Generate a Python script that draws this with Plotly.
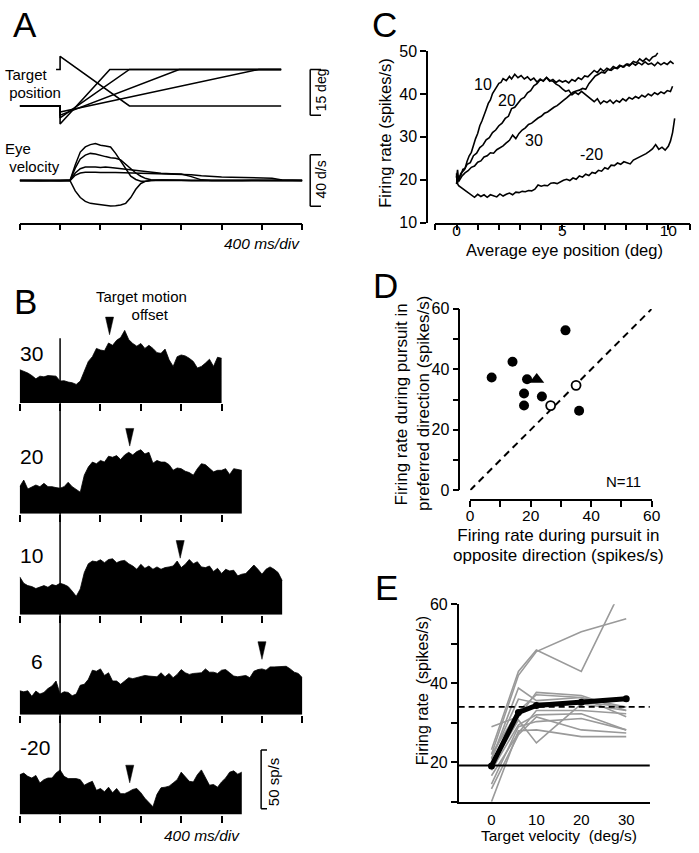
import plotly.graph_objects as go

W, H = 699, 853
def px(x):
    return x / W
def py(y):
    return 1 - y / H

FONT = "Liberation Sans, Arial, Helvetica, sans-serif"

# ---------------- Panel A : target position (deg) ----------------
pos_t_30 = [-400, 0, 0, 493, 2190]
pos_deg_30 = [0, 0, -5.9, 12, 12]
pos_t_20 = [-400, 0, 0, 687, 2190]
pos_deg_20 = [0, 0, -3.9, 12, 12]
pos_t_10 = [-400, 0, 0, 1180, 2190]
pos_deg_10 = [0, 0, -3.0, 12, 12]
pos_t_6 = [-400, 0, 0, 1968, 2190]
pos_deg_6 = [0, 0, -2.0, 12, 12]
pos_t_m20 = [-40, 0, 0, 687, 2190]
pos_deg_m20 = [12, 12, 16.3, 0, 0]

# ---------------- Panel A : eye velocity (deg/s) ----------------
eye_t = [-400, -200, 0, 100, 150, 200, 250, 300, 350, 400, 450, 500, 550, 600, 650, 700,
         750, 800, 850, 900, 1000, 1100, 1200, 1300, 1400, 1500, 1600, 1700, 1800, 1900,
         2000, 2100, 2200, 2300, 2400]
eye_vel_30 = [0, 0.2, -0.2, 0.3, 12, 22, 26, 27.8, 28.6, 27.3, 26.8, 26, 21, 15.2, 8.4, 3.3,
              0.8, -0.5, -0.5, 0, 0.3, 0, 0.2, 0, 0.1, 0, 0, 0.2, 0, 0, 0.1, 0, 0, 0, 0]
eye_vel_20 = [0, -0.2, 0.2, 0.2, 9.6, 16.7, 19.7, 21, 20.5, 19.2, 18.5, 17.7, 17.2, 16, 12.7, 9.6,
              5.8, 3.3, 1.5, 0.5, 0.2, 0, 0.1, 0, 0, 0.1, 0, 0, 0, 0, 0, 0, 0, 0, 0]
eye_vel_10 = [0, 0.2, 0, 0.2, 5.8, 9.1, 10.4, 10.6, 10.4, 10.1, 10.4, 10.1, 9.6, 9.6, 9.1, 8.6,
              8.1, 7.6, 6.6, 6.1, 5.6, 5.3, 5.1, 3.0, 0.5, 0, 0.2, 0, 0, 0.1, 0, 0, 0, 0, 0]
eye_vel_6 = [0, -0.2, 0.1, 0, 4, 5.8, 6.3, 6.5, 6.3, 6.2, 6.4, 6.2, 6.1, 6.0, 5.9, 5.9,
             5.8, 5.8, 5.6, 5.5, 5.3, 5.0, 4.8, 4.5, 3.6, 3.0, 2.8, 2.6, 2.5, 2.3, 2.2, 1.8, 0.3, 0, 0]
eye_vel_m20 = [0, 0, 0.2, -0.3, -8.1, -13.2, -16.2, -17.7, -18.2, -18.7, -19.5, -19.7, -19.5, -19,
               -17.7, -13.2, -6.8, -2.3, -0.5, 0, 0, 0, 0.1, 0, 0, 0, 0, 0, 0, 0, 0, 0, 0, 0, 0]
time_ticks_ms = [-400, 0, 400, 800, 1200, 1600, 2000, 2400]

# ---------------- Panel B : PSTHs (spikes/s), 40 ms bins from -400 ms ----------------
psth_start_ms = -400
psth_bin_ms = 40
psth_30 = [28.3, 27, 25.5, 23.3, 20.5, 22.8, 22.2, 23.3, 23.3, 22.8,
           18.6, 18.9, 17.8, 17.2, 15.8, 18.6, 27, 35.3, 39.4, 46.4,
           45, 44.4, 51, 49, 53.3, 55.6, 61.7, 53.9, 50.6, 48.3,
           50.6, 46.4, 49, 46.4, 42.8, 42.2, 45.8, 36.7, 31.1, 39.4,
           40.8, 40, 38, 35.3, 29.7, 31.1, 33.9, 37.2, 31.1, 38.9, 38]
psth_20 = [23, 28.6, 21, 23, 24.4, 23, 25.8, 23, 23, 22.2,
           21.7, 23, 26.7, 23, 20.3, 18.3, 32.8, 39.7, 43.9, 42.5,
           45.3, 43.9, 48.9, 48, 49.4, 46.1, 50, 52.2, 50, 52.8,
           54.4, 50.8, 52.2, 43, 45.3, 43.9, 43.9, 41.7, 37, 38.9,
           38.3, 36.1, 35, 32.8, 38.3, 42.5, 41.7, 38.3, 35.6, 36.9,
           36.9, 38.3, 33.3, 38.3, 37.8, 36.9]
psth_10 = [32.2, 26.7, 24.7, 23.9, 22.2, 23.3, 24.7, 23.3, 25.6, 24.7,
           26.7, 25.6, 23.9, 20, 15.6, 21.9, 35.8, 43.3, 45.6, 45,
           46.7, 44.2, 46.9, 47.5, 44.2, 45.6, 46.1, 43.3, 41.4, 38.6,
           42.8, 39.4, 41.4, 38.6, 40.6, 38.6, 40, 40.6, 41.4, 45.6,
           40, 42.8, 46.9, 43.3, 45, 40.6, 40, 41.4, 36.7, 39.4,
           35, 38.6, 37.2, 37.8, 33, 34.4, 35, 38.6, 42.2, 38.6,
           34.4, 38.6, 40.6, 38.6, 35.8, 29]
psth_6 = [20.3, 19.4, 20.3, 15.6, 20, 17.5, 18.9, 22.2, 24.4, 28.6,
          17.5, 19.4, 18.9, 16.1, 17.5, 25, 25.8, 30, 37.8, 36.9,
          38.9, 33.3, 35.6, 28.6, 28.6, 25.8, 28.6, 31.4, 30.6, 31.4,
          32.8, 33.3, 32.8, 32.8, 32.2, 35.6, 32.2, 35, 31.4, 34.2,
          38.3, 35.6, 34.2, 35, 35.6, 35.6, 38.9, 36.1, 36.1, 35,
          37.8, 38.3, 35.6, 32.8, 32.2, 32.8, 33.3, 31.4, 36.9, 38.3,
          38.9, 37.8, 40.6, 40.6, 40.8, 41.1, 41.1, 38.9, 36.1, 35, 31.4]
psth_m20 = [33.9, 35.3, 32.5, 31.1, 33.3, 26.9, 29.7, 31.1, 31.1, 35.3,
            38, 32.5, 30.6, 30.6, 30.6, 29.7, 25, 26.9, 28.3, 20.6,
            22.2, 19.4, 23.3, 18.6, 22.2, 17.8, 17.8, 19.4, 21.4, 22.2,
            18.6, 13.9, 10.3, 6.7, 17.2, 22.8, 23.3, 24.2, 26.9, 29.7,
            36.1, 31.7, 28.3, 27.8, 33.9, 38, 31.1, 25, 25.6, 23.3,
            27.8, 31.1, 36.1, 37.2, 34.4, 36.1]
psth_labels = ["30", "20", "10", "6", "-20"]
offset_ms = [490, 690, 1190, 2000, 690]          # target motion offset arrows
arrow_tip_sps = [58, 57.5, 48, 47, 27]

# ---------------- Panel C : firing rate vs eye position ----------------
c_10 = [(0.00,21.5),(0.05,19.2),(0.10,20.6),(0.20,21.0),(0.30,22.4),(0.40,22.6),(0.50,24.3),(0.60,25.6),
        (0.70,26.4),(0.80,28.3),(0.90,29.6),(1.00,30.8),(1.10,32.6),(1.20,33.7),(1.30,35.3),(1.40,36.4),
        (1.50,37.8),(1.60,38.6),(1.70,40.1),(1.80,40.9),(1.90,41.7),(2.00,42.5),(2.10,42.7),(2.20,43.6),
        (2.35,43.1),(2.50,44.1),(2.60,43.5),(2.75,44.6),(2.90,43.8),(3.05,44.3),(3.20,43.5),(3.35,44.0),
        (3.50,43.2),(3.65,43.7),(3.80,42.8),(3.95,43.5),(4.10,43.0),(4.25,43.8),(4.40,43.0),(4.55,43.4),
        (4.70,42.7),(4.85,43.2),(5.00,42.8),(5.15,43.1),(5.30,42.6),(5.45,43.4),(5.60,43.0),(5.75,43.8),
        (5.90,43.4),(6.05,44.2),(6.20,44.0),(6.35,44.8),(6.50,45.5),(6.65,45.0),(6.80,45.9),(6.95,45.3),
        (7.10,46.0),(7.25,45.6),(7.40,46.4),(7.55,46.0),(7.70,46.7),(7.85,46.3),(8.00,46.9),(8.15,46.5),
        (8.30,47.2),(8.45,46.7),(8.60,47.3),(8.75,46.8),(8.90,47.5),(9.05,46.9),(9.20,47.2),(9.35,46.6),
        (9.50,47.4),(9.65,46.8),(9.80,47.3),(9.95,46.9),(10.10,47.6),(10.25,47.0)]
c_20 = [(0.00,20.5),(0.05,22.3),(0.10,19.8),(0.20,21.5),(0.35,22.2),(0.50,23.6),(0.65,24.0),(0.80,25.6),
        (0.95,26.2),(1.10,27.5),(1.25,28.1),(1.40,29.3),(1.55,29.8),(1.70,31.0),(1.85,31.6),(2.00,32.6),
        (2.15,33.2),(2.30,34.3),(2.45,34.8),(2.60,36.6),(2.75,36.9),(2.90,37.8),(3.05,38.8),(3.20,39.2),
        (3.35,40.3),(3.50,40.8),(3.65,41.9),(3.80,42.4),(3.95,43.3),(4.10,43.1),(4.25,43.9),(4.40,43.2),
        (4.55,43.0),(4.70,42.3),(4.85,41.9),(5.00,41.2),(5.15,40.6),(5.30,40.9),(5.45,39.8),(5.60,40.4),
        (5.75,39.9),(5.90,40.6),(6.05,40.0),(6.20,39.4),(6.35,38.6),(6.50,38.2),(6.65,38.9),(6.80,37.7),
        (6.95,38.4),(7.10,38.0),(7.25,38.6),(7.40,37.8),(7.55,38.5),(7.70,38.1),(7.85,38.9),(8.00,38.4),
        (8.15,39.2),(8.30,38.8),(8.45,39.4),(8.60,39.0),(8.75,39.7),(8.90,39.3),(9.05,40.0),(9.20,39.6),
        (9.35,40.3),(9.50,39.9),(9.65,40.5),(9.80,40.1),(9.95,40.8),(10.10,40.6),(10.20,41.8)]
c_30 = [(0.00,19.0),(0.05,21.0),(0.10,19.6),(0.25,20.8),(0.40,21.6),(0.55,22.1),(0.70,22.9),(0.85,23.2),
        (1.00,24.1),(1.15,24.4),(1.30,25.3),(1.45,25.6),(1.60,26.3),(1.75,26.2),(1.90,27.0),(2.05,27.4),
        (2.20,27.9),(2.35,28.6),(2.50,29.2),(2.65,30.4),(2.80,29.6),(2.95,30.8),(3.10,31.6),(3.25,32.1),
        (3.40,32.9),(3.55,33.2),(3.70,33.9),(3.85,34.4),(4.00,34.8),(4.15,35.5),(4.30,35.8),(4.45,36.4),
        (4.60,36.9),(4.75,37.3),(4.90,38.0),(5.05,38.5),(5.20,39.1),(5.35,39.7),(5.50,40.4),(5.65,40.7),
        (5.80,40.9),(5.95,41.3),(6.10,41.1),(6.25,42.4),(6.40,43.3),(6.55,44.2),(6.70,44.6),(6.85,45.1),
        (7.00,44.9),(7.15,45.7),(7.30,45.5),(7.45,46.1),(7.60,45.9),(7.75,46.6),(7.90,46.3),(8.05,47.0),
        (8.20,46.8),(8.35,47.6),(8.50,47.3),(8.65,48.2),(8.80,47.6),(8.95,48.3),(9.10,47.7),(9.25,48.6),
        (9.40,48.9),(9.50,49.6)]
c_m20 = [(0.00,21.0),(0.03,19.3),(0.10,18.6),(0.25,18.1),(0.40,17.5),(0.55,16.9),(0.70,16.4),(0.85,15.9),
         (1.00,16.6),(1.15,16.1),(1.30,16.5),(1.45,15.9),(1.60,16.5),(1.75,16.2),(1.90,16.0),(2.05,16.7),
         (2.20,16.2),(2.35,16.6),(2.50,16.9),(2.65,16.5),(2.80,17.1),(2.95,17.0),(3.10,17.3),(3.25,17.2),
         (3.40,17.5),(3.55,17.4),(3.70,17.8),(3.85,18.8),(4.00,18.5),(4.15,18.7),(4.30,18.6),(4.45,19.2),
         (4.60,19.3),(4.75,19.1),(4.90,19.6),(5.05,19.9),(5.20,20.1),(5.35,19.8),(5.50,20.4),(5.65,20.1),
         (5.80,20.9),(5.95,20.6),(6.10,21.3),(6.25,21.0),(6.40,21.7),(6.55,21.5),(6.70,22.2),(6.85,22.0),
         (7.00,22.8),(7.15,22.5),(7.30,23.4),(7.45,23.3),(7.60,23.9),(7.75,23.6),(7.90,24.2),(8.05,23.9),
         (8.20,23.7),(8.35,24.6),(8.50,25.0),(8.65,25.4),(8.80,25.6),(8.95,26.1),(9.10,26.6),(9.25,27.2),
         (9.40,28.2),(9.55,27.1),(9.70,27.6),(9.85,26.9),(10.00,27.8),(10.10,29.0),(10.20,31.0),(10.30,34.3)]
c_label_text = ["10", "20", "30", "-20"]
c_label_x = [1.25, 2.4, 3.66, 6.35]
c_label_y = [42.2, 38.6, 29.2, 25.8]

# ---------------- Panel D : preferred vs opposite (spikes/s) ----------------
d_filled_x = [7.1, 14.0, 31.5, 18.8, 17.8, 17.8, 23.7, 36.0]
d_filled_y = [37.3, 42.5, 52.9, 36.7, 32.0, 28.0, 31.0, 26.3]
d_tri_x = [22.0]
d_tri_y = [36.6]
d_open_x = [26.6, 35.0]
d_open_y = [28.0, 34.7]

# ---------------- Panel E : firing rate vs target velocity ----------------
e_vel = [0, 6, 10, 20, 30]
e_cells = [
    [22.0, 42.0, 48.0, 53.0, 56.3],
    [23.2, 43.0, 48.4, 43.0, 66.3],
    [29.0, 31.5, 37.7, 36.9, 33.1],
    [20.7, 38.8, 35.6, 36.4, 34.0],
    [19.1, 30.7, 24.9, 34.8, 33.1],
    [16.6, 27.4, 33.1, 33.1, 32.3],
    [14.5, 29.0, 30.3, 31.1, 28.2],
    [10.0, 28.0, 28.2, 26.5, 26.5],
    [13.3, 27.0, 31.5, 28.2, 27.4],
    [22.0, 33.0, 37.1, 36.4, 31.5],
    [18.0, 29.5, 32.0, 32.3, 28.2],
    [21.0, 36.0, 35.0, 35.2, 34.0],
]
e_mean = [19.1, 32.6, 34.4, 35.2, 36.1]
e_baseline = 19.2
e_pursuit_level = 34.0

# =====================================================================
fig = go.Figure()
BLK = "black"

def line_trace(x, y, xa, ya, width=1.5, color=BLK, dash=None):
    fig.add_trace(go.Scatter(x=x, y=y, xaxis=xa, yaxis=ya, mode="lines",
                             line=dict(color=color, width=width, dash=dash),
                             hoverinfo="skip", showlegend=False))

# Panel A
for t, p in [(pos_t_30, pos_deg_30), (pos_t_20, pos_deg_20), (pos_t_10, pos_deg_10),
             (pos_t_6, pos_deg_6), (pos_t_m20, pos_deg_m20)]:
    line_trace(t, p, "x", "y", 1.6)
for v in [eye_vel_6, eye_vel_10, eye_vel_20, eye_vel_30, eye_vel_m20]:
    line_trace(eye_t, v, "x2", "y2", 1.5)

# Panel B
psth_rows = [psth_30, psth_20, psth_10, psth_6, psth_m20]
row_base_px = [403, 516, 619, 721, 823]
ROW_H = 95
SPS_PX = 1.2
for i, vals in enumerate(psth_rows):
    xa, ya = "x%d" % (i + 3), "y%d" % (i + 3)
    t = [psth_start_ms + psth_bin_ms * k for k in range(len(vals))]
    fig.add_trace(go.Scatter(x=t, y=vals, xaxis=xa, yaxis=ya, mode="lines", fill="tozeroy",
                             fillcolor=BLK, line=dict(color=BLK, width=0.8),
                             hoverinfo="skip", showlegend=False))
    to = offset_ms[i]
    tip = arrow_tip_sps[i]
    fig.add_trace(go.Scatter(x=[to - 40, to + 40, to, to - 40], y=[tip + 15, tip + 15, tip, tip + 15],
                             xaxis=xa, yaxis=ya, mode="lines", fill="toself", fillcolor=BLK,
                             line=dict(color=BLK, width=0.5), hoverinfo="skip", showlegend=False))

# Panel C
for curve in [c_m20, c_30, c_20, c_10]:
    line_trace([p[0] for p in curve], [p[1] for p in curve], "x8", "y8", 1.6)

# Panel D
line_trace([0, 60], [0, 60], "x9", "y9", 2.0, dash="7px,5px")
fig.add_trace(go.Scatter(x=d_tri_x, y=d_tri_y, xaxis="x9", yaxis="y9", mode="markers",
                         marker=dict(symbol="triangle-up", size=13, color=BLK),
                         hoverinfo="skip", showlegend=False))
fig.add_trace(go.Scatter(x=d_filled_x, y=d_filled_y, xaxis="x9", yaxis="y9", mode="markers",
                         marker=dict(symbol="circle", size=10, color=BLK),
                         hoverinfo="skip", showlegend=False))
fig.add_trace(go.Scatter(x=d_open_x, y=d_open_y, xaxis="x9", yaxis="y9", mode="markers",
                         marker=dict(symbol="circle", size=9, color="white",
                                     line=dict(color=BLK, width=1.8)),
                         hoverinfo="skip", showlegend=False))

# Panel E
for cell in e_cells:
    line_trace(e_vel, cell, "x10", "y10", 1.6, color="#9a9a9a")
fig.add_trace(go.Scatter(x=e_vel, y=e_mean, xaxis="x10", yaxis="y10", mode="lines+markers",
                         line=dict(color=BLK, width=5), marker=dict(size=7, color=BLK),
                         hoverinfo="skip", showlegend=False))

# ---------------- axes ----------------
base_ax = dict(showgrid=False, zeroline=False, showline=True, linecolor=BLK, linewidth=1.5,
               ticks="outside", ticklen=6, tickwidth=1.5, tickcolor=BLK,
               tickfont=dict(family=FONT, size=16, color=BLK))
hidden = dict(visible=False, showgrid=False, zeroline=False)

lay = {}
lay["xaxis"] = dict(hidden, domain=[px(16), px(304)], range=[-400, 2400], anchor="y")
lay["yaxis"] = dict(hidden, domain=[py(122), py(40)], range=[-22 / 3.11, 60 / 3.11], anchor="x")
lay["xaxis2"] = dict(base_ax, domain=[px(16), px(304)], range=[-400, 2400], anchor="y2",
                     tickvals=time_ticks_ms, showticklabels=False)
lay["yaxis2"] = dict(hidden, domain=[py(219), py(125)], range=[-43 / 1.317, 51 / 1.317], anchor="x2")

for i, vals in enumerate(psth_rows):
    n = i + 3
    t_end = psth_start_ms + psth_bin_ms * (len(vals) - 1)
    b = row_base_px[i]
    lay["xaxis%d" % n] = dict(base_ax, domain=[px(16), px(304)], range=[-400, 2400],
                              anchor="y%d" % n, showline=False, ticklen=7,
                              tickvals=[tk for tk in time_ticks_ms if tk <= t_end + 1],
                              showticklabels=False)
    lay["yaxis%d" % n] = dict(hidden, domain=[py(b), py(b - ROW_H)], range=[0, ROW_H / SPS_PX],
                              anchor="x%d" % n)

lay["xaxis8"] = dict(base_ax, domain=[px(439.5), px(698.5)], range=[-1, 11], anchor="y8",
                     tickvals=list(range(-1, 12)), ticklabelstandoff=-13,
                     tickfont=dict(family=FONT, size=15.5, color=BLK),
                     ticktext=["", "0", "", "", "", "", "5", "", "", "", "", "10", ""])
lay["yaxis8"] = dict(base_ax, domain=[py(219), py(44)], range=[10, 50], anchor="free",
                     position=px(431), tickvals=[10, 20, 30, 40, 50])

lay["xaxis9"] = dict(base_ax, domain=[px(475), px(660)], range=[0, 60], anchor="free",
                     position=py(502), tickvals=[0, 10, 20, 30, 40, 50, 60], ticklabelstandoff=-4,
                     tickfont=dict(family=FONT, size=15.5, color=BLK),
                     ticktext=["0", "", "20", "", "40", "", "60"])
lay["yaxis9"] = dict(base_ax, domain=[py(492), py(307)], range=[0, 60], anchor="free",
                     position=px(464), tickvals=[0, 10, 20, 30, 40, 50, 60],
                     ticktext=["0", "", "20", "", "40", "", "60"])

lay["xaxis10"] = dict(base_ax, domain=[px(463.3), px(658)], range=[-7.3, 35.24], anchor="y10",
                      tickvals=[0, 10, 20, 30], ticks="", ticklabelstandoff=3,
                      tickfont=dict(family=FONT, size=15, color=BLK))
lay["yaxis10"] = dict(base_ax, domain=[py(810), py(608.3)], range=[10, 60], anchor="x10",
                      tickvals=[10, 20, 30, 40, 50, 60], ticktext=["", "20", "", "40", "", "60"])

# ---------------- shapes ----------------
shapes = []
def seg(x0, y0, x1, y1, xref, yref, width=1.5, dash=None):
    shapes.append(dict(type="line", x0=x0, y0=y0, x1=x1, y1=y1, xref=xref, yref=yref,
                       line=dict(color=BLK, width=width, dash=dash)))

def bracket(xpix, yref, ytop, ybot, tick=11):
    seg(px(xpix), ytop, px(xpix), ybot, "paper", yref)
    seg(px(xpix), ytop, px(xpix + tick), ytop, "paper", yref)
    seg(px(xpix), ybot, px(xpix + tick), ybot, "paper", yref)

bracket(312, "y", 12, -3)
bracket(312, "y2", 20, -20)
bracket(262, "y7", 55, 5, tick=6)
seg(0, py(337), 0, py(823), "x3", "paper", 1.5)
seg(0, e_baseline, 1, e_baseline, "x10 domain", "y10", 1.8)
seg(0, e_pursuit_level, 1, e_pursuit_level, "x10 domain", "y10", 1.8, dash="6px,4px")

# ---------------- annotations ----------------
ann = []
def txt(s, x, y, size=15, xanchor="center", angle=0, italic=False, ref=None, align="center"):
    d = dict(text=s, showarrow=False, xanchor=xanchor, yanchor="middle", textangle=angle,
             align=align,
             font=dict(family=FONT, size=size, color=BLK, style="italic" if italic else "normal"))
    if ref is None:
        d.update(x=px(x), y=py(y), xref="paper", yref="paper")
    else:
        d.update(x=x, y=y, xref=ref[0], yref=ref[1])
    ann.append(d)

def two_lines(l1, l2, size, gap, x, y, xanchor="center", align="center", angle=0):
    # one text block; line spacing = 1.3 * base size, glyphs drawn at `size`
    base = gap / 1.3
    s = "<span style='font-size:%gpx'>%s</span><br><span style='font-size:%gpx'>%s</span>" % (size, l1, size, l2)
    txt(s, x, y, size=base, xanchor=xanchor, align=align, angle=angle)

for letter, x, y in [("A", 21, 17), ("B", 21.5, 299), ("C", 388, 17), ("D", 389, 283), ("E", 389.5, 591)]:
    txt(letter, x, y, size=35)

NB = "\u00a0"
two_lines("Target", NB + "position", 15, 18, -1, 77, xanchor="left", align="left")
two_lines("Eye", NB + "velocity", 15, 18, -1, 152.5, xanchor="left", align="left")
txt("400 ms/div", 304, 240, size=15.5, xanchor="right", italic=True)
txt("15 deg", 323, 83, size=14, angle=-90)
txt("40 d/s", 323, 175, size=14, angle=-90)

two_lines("Target motion", NB * 4 + "offset", 15, 18, 140, 304)
for lab, (x, y) in zip(psth_labels, [(28.5, 353), (28.5, 458), (28.5, 559), (34, 667), (32, 755)]):
    txt(lab, x, y, size=21)
txt("400 ms/div", 243, 844, size=15.5, xanchor="right", italic=True)
txt("50 sp/s", 274, 790, size=15, angle=-90)

txt("Firing rate (spikes/s)", 388.5, 128, size=16.5, angle=-90)
txt("Average eye position (deg)", 571.5, 246.5, size=16.5)
for s, x, y in zip(c_label_text, c_label_x, c_label_y):
    txt(s, x, y, size=16, ref=("x8", "y8"))

txt("Firing rate during pursuit in", 405, 404, size=17, angle=-90)
txt("preferred direction (spikes/s)", 428, 404, size=17, angle=-90)
two_lines("Firing rate during pursuit in", "opposite direction (spikes/s)", 17, 19.5, 565.5, 548)
txt("N=11", 631.5, 483, size=15)

txt("Firing rate" + NB + " (spikes/s)", 426, 697, size=16, angle=-90)
txt("Target velocity" + NB + " (deg/s)", 566, 844, size=15.5)

fig.update_layout(width=W, height=H, margin=dict(l=0, r=0, t=0, b=0),
                  paper_bgcolor="white", plot_bgcolor="rgba(0,0,0,0)",
                  showlegend=False, shapes=shapes, annotations=ann,
                  font=dict(family=FONT, color=BLK), **lay)

# pin the figure to the top-left corner of the page
POST = ("var g=document.getElementById('{plot_id}');"
        "document.documentElement.style.margin='0px';"
        "document.documentElement.style.overflow='hidden';"
        "document.body.style.margin='0px';document.body.style.padding='0px';"
        "document.body.style.overflow='hidden';"
        "g.style.position='fixed';g.style.left='0px';g.style.top='0px';")
fig.write_html("out.html", config={"displayModeBar": False}, post_script=POST)
